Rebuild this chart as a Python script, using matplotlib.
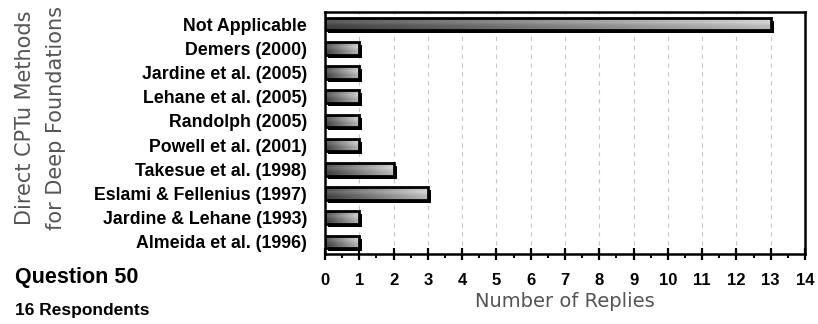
import numpy as np
import matplotlib.pyplot as plt
import matplotlib.patheffects as pe
from matplotlib.ticker import MultipleLocator

# ── Data (bottom to top) ──────────────────────────────────────────────────────
METHODS = ["Almeida et al. (1996)", "Jardine & Lehane (1993)",
           "Eslami & Fellenius (1997)", "Takesue et al. (1998)",
           "Powell et al. (2001)", "Randolph (2005)",
           "Lehane et al. (2005)", "Jardine et al. (2005)",
           "Demers (2000)", "Not Applicable"]
REPLIES = [1, 1, 3, 2, 1, 1, 1, 1, 1, 13]
XTICKS = list(range(0, 15))

plt.rcParams["font.family"] = ["Liberation Sans", "DejaVu Sans"]

fig = plt.figure(figsize=(8.18, 3.24), dpi=100)
ax = fig.add_axes([325 / 818, 1 - 254 / 324, 480 / 818, 242 / 324])

y = np.arange(len(METHODS))
H = 0.52

# shadowed white base
base = ax.barh(y, REPLIES, height=H, color="white", edgecolor="none", zorder=2)
for b in base:
    b.set_path_effects([pe.SimplePatchShadow(offset=(2.2, -2.2), shadow_rgbFace="black",
                                             alpha=1.0), pe.Normal()])

# gradient: dark left -> light right, with a soft highlight band near the top
xx, yy = np.meshgrid(np.linspace(0, 1, 256), np.linspace(0, 1, 32))
shade = 0.24 + 0.48 * xx + 0.12 * np.exp(-((yy - 0.35) / 0.25) ** 2)
for b in base:
    x0, y0 = b.get_x(), b.get_y()
    w, h = b.get_width(), b.get_height()
    im = ax.imshow(shade, cmap="gray", vmin=0, vmax=1, extent=[x0, x0 + w, y0, y0 + h],
                   aspect="auto", zorder=3, interpolation="bilinear")
    im.set_clip_path(b)

ax.barh(y, REPLIES, height=H, color="none", edgecolor="black", linewidth=2.0, zorder=4)

ax.set_xlim(0, 14)
ax.set_ylim(-0.5, len(METHODS) - 0.5)
ax.set_xticks(XTICKS)
ax.xaxis.set_minor_locator(MultipleLocator(0.5))
ax.set_yticks(y)
ax.set_yticklabels(METHODS, fontsize=12.8, fontweight="bold")
ax.tick_params(axis="y", length=0, pad=13)
ax.tick_params(axis="x", which="major", direction="inout", length=9, width=1.6,
               labelsize=12, pad=9)
ax.tick_params(axis="x", which="minor", direction="out", length=3, width=1.4)
for lab in ax.get_xticklabels():
    lab.set_fontweight("bold")

ax.grid(axis="x", color="#c8c8c8", linestyle=(0, (4, 4)), linewidth=0.8, zorder=0)
ax.set_axisbelow(True)
for s in ax.spines.values():
    s.set_linewidth(1.8)

ax.set_xlabel("Number of Replies", fontsize=14, color="#555555",
              family=["DejaVu Sans"], labelpad=3)

fig.text(25 / 818, 1 - 118 / 324, "Direct CPTu Methods", rotation=90,
         ha="center", va="center", fontsize=15, color="#555555", family=["DejaVu Sans"])
fig.text(56 / 818, 1 - 118 / 324, "for Deep Foundations", rotation=90,
         ha="center", va="center", fontsize=15, color="#555555", family=["DejaVu Sans"])
fig.text(15 / 818, 1 - 277 / 324, "Question 50", ha="left", va="center",
         fontsize=15.5, fontweight="bold")
fig.text(15 / 818, 1 - 311 / 324, "16 Respondents", ha="left", va="center",
         fontsize=12.5, fontweight="bold")

fig.savefig("out.png", dpi=100, facecolor="white")
